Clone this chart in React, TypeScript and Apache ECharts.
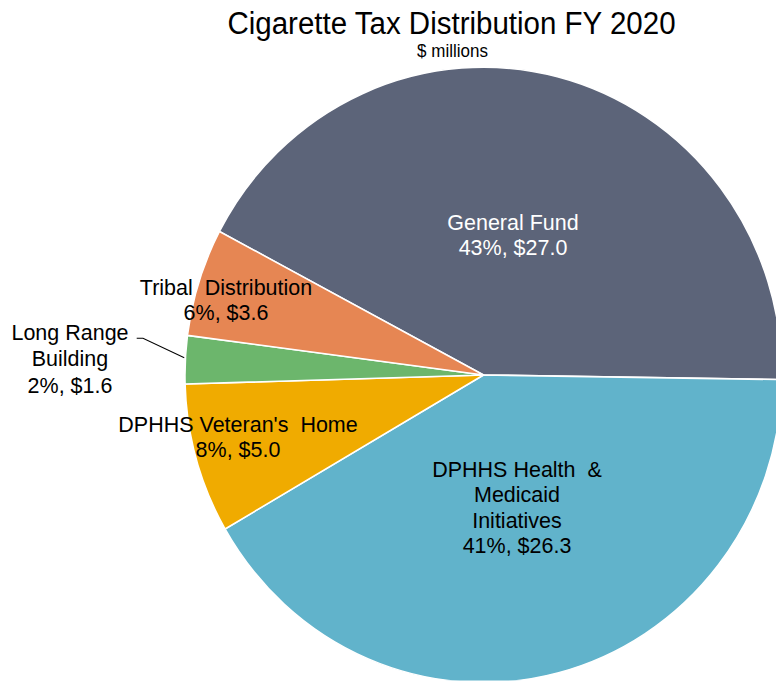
import React, { useEffect, useRef } from 'react';
import * as echarts from 'echarts';

const categories = [
  'General Fund',
  'DPHHS Health  &\nMedicaid\nInitiatives',
  "DPHHS Veteran's  Home",
  'Long Range\nBuilding',
  'Tribal  Distribution',
];
const values = [27.0, 26.3, 5.0, 1.6, 3.6];
const shares = [43, 41, 8, 2, 6];
const colors = ['#5C6479', '#61B3CB', '#F0AB00', '#6CB66C', '#E68653'];
const labelColors = ['#FFFFFF', '#000000', '#000000', '#000000', '#000000'];
const titleText = 'Cigarette Tax Distribution FY 2020';
const subText = '$ millions';

// layout (chart units, before the vertical stretch)
const SY = 1.031;
const labelPos: number[][] = [
  [513, 228],
  [517, 492],
  [238, 424],
  [70, 348],
  [226, 291],
];
const FONT = '"Liberation Sans", Arial, Helvetica, sans-serif';

export default function App() {
  const ref = useRef<HTMLDivElement>(null);
  useEffect(() => {
    if (!ref.current) return;
    const chart = echarts.init(ref.current, null, { renderer: 'svg' });
    const data = categories.map((name, i) => ({
      name,
      value: values[i],
      itemStyle: { color: colors[i] },
      label: {
        color: labelColors[i],
        lineHeight: i === 3 ? 25.5 : 24.5,
      },
      labelLine: { show: i === 3 },
    }));
    chart.setOption({
      animation: false,
      backgroundColor: '#ffffff',
      graphic: [
        {
          type: 'text',
          x: 451.5,
          y: 22.3,
          style: {
            text: titleText,
            fontSize: 29.5,
            fontFamily: FONT,
            fill: '#000000',
            align: 'center',
            verticalAlign: 'middle',
          },
        },
        {
          type: 'text',
          x: 452.5,
          y: 49.5,
          style: {
            text: subText,
            fontSize: 17,
            fontFamily: FONT,
            fill: '#000000',
            align: 'center',
            verticalAlign: 'middle',
          },
        },
      ],
      series: [
        {
          type: 'pie',
          center: [483.5, 363.7],
          radius: 298.5,
          startAngle: 152.2,
          clockwise: true,
          avoidLabelOverlap: false,
          minShowLabelAngle: 0,
          itemStyle: { borderColor: '#ffffff', borderWidth: 1.5 },
          label: {
            show: true,
            position: 'outside',
            fontSize: 21.5,
            fontFamily: FONT,
            align: 'center',
            formatter: (p: any) =>
              `${p.name}\n${shares[p.dataIndex]}%, $${values[p.dataIndex].toFixed(1)}`,
          },
          labelLine: {
            show: false,
            lineStyle: { color: '#000000', width: 1 },
          },
          labelLayout: (params: any) => {
            const i = params.dataIndex;
            const p = labelPos[i];
            const r: any = { x: p[0], y: p[1], align: 'center', verticalAlign: 'middle' };
            if (i === 3) {
              r.labelLinePoints = [
                [184.3, 347],
                [143, 328.1],
                [136.7, 328.1],
              ];
            }
            return r;
          },
          emphasis: { disabled: true },
          data,
        },
      ],
    });
    return () => chart.dispose();
  }, []);
  return (
    <div
      style={{
        position: 'fixed',
        left: 0,
        top: 0,
        width: 776,
        height: 681,
        overflow: 'hidden',
        background: '#ffffff',
      }}
    >
      <div
        ref={ref}
        style={{
          width: 776,
          height: 660,
          transformOrigin: '0 0',
          transform: `scaleY(${SY})`,
        }}
      />
    </div>
  );
}
